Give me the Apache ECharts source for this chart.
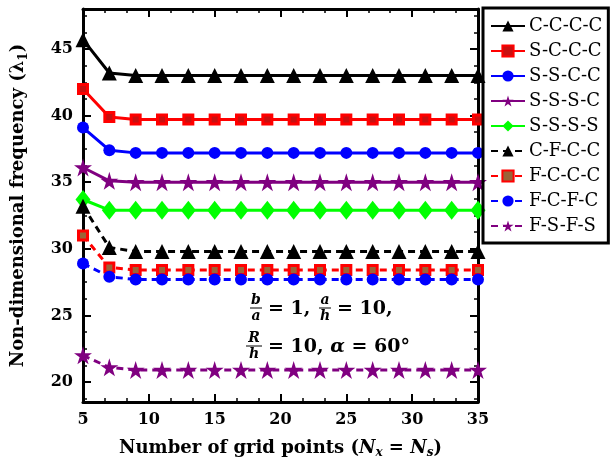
<!DOCTYPE html>
<html>
<head>
<meta charset="utf-8">
<script src="https://cdn.jsdelivr.net/npm/echarts@6/dist/echarts.min.js"></script>
<style>
  html, body { margin: 0; padding: 0; background: #fff; }
  #chart { width: 610px; height: 461px; }
</style>
</head>
<body>
<div id="chart"></div>
<script>
// grid points on x axis
const gridPoints = [5, 7, 9, 11, 13, 15, 17, 19, 21, 23, 25, 27, 29, 31, 33, 35];

// non-dimensional frequency per boundary condition
const cccc = [45.7, 43.2, 43.0, 43.0, 43.0, 43.0, 43.0, 43.0, 43.0, 43.0, 43.0, 43.0, 43.0, 43.0, 43.0, 43.0];
const sccc = [42.0, 39.9, 39.7, 39.7, 39.7, 39.7, 39.7, 39.7, 39.7, 39.7, 39.7, 39.7, 39.7, 39.7, 39.7, 39.7];
const sscc = [39.1, 37.4, 37.2, 37.2, 37.2, 37.2, 37.2, 37.2, 37.2, 37.2, 37.2, 37.2, 37.2, 37.2, 37.2, 37.2];
const sssc = [36.1, 35.1, 35.0, 35.0, 35.0, 35.0, 35.0, 35.0, 35.0, 35.0, 35.0, 35.0, 35.0, 35.0, 35.0, 35.0];
const ssss = [33.7, 32.9, 32.9, 32.9, 32.9, 32.9, 32.9, 32.9, 32.9, 32.9, 32.9, 32.9, 32.9, 32.9, 32.9, 32.9];
const cfcc = [33.2, 30.1, 29.8, 29.8, 29.8, 29.8, 29.8, 29.8, 29.8, 29.8, 29.8, 29.8, 29.8, 29.8, 29.8, 29.8];
const fccc = [31.0, 28.6, 28.4, 28.4, 28.4, 28.4, 28.4, 28.4, 28.4, 28.4, 28.4, 28.4, 28.4, 28.4, 28.4, 28.4];
const fcfc = [28.9, 27.9, 27.7, 27.7, 27.7, 27.7, 27.7, 27.7, 27.7, 27.7, 27.7, 27.7, 27.7, 27.7, 27.7, 27.7];
const fsfs = [22.0, 21.1, 20.9, 20.9, 20.9, 20.9, 20.9, 20.9, 20.9, 20.9, 20.9, 20.9, 20.9, 20.9, 20.9, 20.9];

// tick values
const yMajorTicks = [20, 25, 30, 35, 40, 45];
const yMinorTicks = [18.75, 21.25, 22.5, 23.75, 26.25, 27.5, 28.75, 31.25, 32.5, 33.75,
                     36.25, 37.5, 38.75, 41.25, 42.5, 43.75, 46.25, 47.5];

const FONT = "DejaVu Serif";
const STAR = "path://M50,0 L61,36 L98,36 L68,58 L80,95 L50,73 L20,95 L32,58 L2,36 L39,36 Z";

const pairs = (ys) => gridPoints.map((x, i) => [x, ys[i]]);

const mkSeries = (name, ys, color, symbol, size, dashed, item) => ({
  name: name,
  type: "line",
  data: pairs(ys),
  symbol: symbol,
  symbolSize: size,
  showSymbol: true,
  lineStyle: { color: color, width: 3, type: dashed ? [7, 5] : "solid" },
  itemStyle: Object.assign({ color: color }, item || {}),
  emphasis: { disabled: true },
  z: 3,
});

const series = [
  mkSeries("C-C-C-C", cccc, "#000000", "triangle", 15, false),
  mkSeries("S-C-C-C", sccc, "#ff0000", "rect", 9, false, { color: "#c81010", borderColor: "#ff0000", borderWidth: 3 }),
  mkSeries("S-S-C-C", sscc, "#0000ff", "circle", 12, false),
  mkSeries("S-S-S-C", sssc, "#800080", STAR, 18, false),
  mkSeries("S-S-S-S", ssss, "#00ff00", "diamond", [15, 19], false),
  mkSeries("C-F-C-C", cfcc, "#000000", "triangle", 15, true),
  mkSeries("F-C-C-C", fccc, "#ff0000", "rect", 9, true, { color: "#9a6438", borderColor: "#ff0000", borderWidth: 3 }),
  mkSeries("F-C-F-C", fcfc, "#0000ff", "circle", 12, true),
  mkSeries("F-S-F-S", fsfs, "#800080", STAR, 18, true),
];

const xCommon = {
  type: "value", min: 5, max: 35, interval: 5,
  axisLine: { show: true, onZero: false, lineStyle: { color: "#000", width: 3 } },
  axisTick: { show: true, inside: true, length: 8, lineStyle: { color: "#000", width: 2 } },
  minorTick: { show: true, splitNumber: 3, length: 4, lineStyle: { color: "#000", width: 1.5 } },
  splitLine: { show: false },
  minorSplitLine: { show: false },
};

const yMain = (pos, labels) => ({
  type: "value", min: 18.5, max: 48, position: pos,
  axisLine: { show: true, onZero: false, lineStyle: { color: "#000", width: 3 } },
  axisTick: { show: true, inside: true, length: 8, customValues: yMajorTicks, lineStyle: { color: "#000", width: 2 } },
  axisLabel: labels
    ? { show: true, customValues: yMajorTicks, color: "#000", fontFamily: FONT, fontWeight: "bold", fontSize: 16, margin: 10 }
    : { show: false },
  splitLine: { show: false },
});

const yMinor = (pos) => ({
  type: "value", min: 18.5, max: 48, position: pos,
  axisLine: { show: false, onZero: false },
  axisTick: { show: true, inside: true, length: 4, customValues: yMinorTicks, lineStyle: { color: "#000", width: 1.5 } },
  axisLabel: { show: false },
  splitLine: { show: false },
});

const chart = echarts.init(document.getElementById("chart"));

const mathFont = "italic bold 14px " + FONT;
const bigFont = "bold 19px " + FONT;

chart.setOption({
  backgroundColor: "#ffffff",
  animation: false,
  grid: { left: 83, right: 132, top: 9, bottom: 59, containLabel: false, outerBoundsMode: "none" },
  legend: {
    orient: "vertical",
    left: 483,
    top: 8,
    padding: [9, 6, 8, 7],
    itemGap: 7,
    itemWidth: 34,
    itemHeight: 14,
    borderColor: "#000",
    borderWidth: 3,
    borderRadius: 0,
    selectedMode: false,
    textStyle: { color: "#000", fontFamily: FONT, fontSize: 18, lineHeight: 17, padding: [0, 0, 0, -1] },
    data: series.map((s) => s.name),
  },
  xAxis: [
    Object.assign({}, xCommon, {
      position: "bottom",
      axisLabel: { show: true, color: "#000", fontFamily: FONT, fontWeight: "bold", fontSize: 16, margin: 10 },
      name: "{b|Number of grid points (}{i|N}{s|x}{b| = }{i|N}{s|s}{b|)}",
      nameLocation: "middle",
      nameGap: 35,
      nameTextStyle: {
        rich: {
          b: { fontFamily: FONT, fontWeight: "bold", fontSize: 18, color: "#000", lineHeight: 22 },
          i: { fontFamily: FONT, fontWeight: "bold", fontStyle: "italic", fontSize: 18, color: "#000", lineHeight: 22 },
          s: { fontFamily: FONT, fontWeight: "bold", fontStyle: "italic", fontSize: 12, color: "#000", lineHeight: 22, verticalAlign: "bottom", padding: [8, 0, 0, 0] },
        },
      },
    }),
    Object.assign({}, xCommon, { position: "top", axisLabel: { show: false } }),
  ],
  yAxis: [
    Object.assign(yMain("left", true), {
      name: "{b|Non-dimensional frequency (λ}{s|1}{b|)}",
      nameLocation: "middle",
      nameGap: 53,
      nameRotate: 90,
      nameTextStyle: {
        rich: {
          b: { fontFamily: FONT, fontWeight: "bold", fontSize: 18, color: "#000", lineHeight: 24 },
          s: { fontFamily: FONT, fontWeight: "bold", fontSize: 12, color: "#000", lineHeight: 24, verticalAlign: "bottom", padding: [9, 0, 0, 0] },
        },
      },
    }),
    yMinor("left"),
    yMain("right", false),
    yMinor("right"),
  ],
  series: series,
  graphic: [
    // b/a = 1, a/h = 10,
    { type: "text", x: 256, y: 300, style: { text: "b", font: mathFont, fill: "#000", align: "center", verticalAlign: "middle" } },
    { type: "line", shape: { x1: 250, y1: 308, x2: 262, y2: 308 }, style: { stroke: "#000", lineWidth: 1 } },
    { type: "text", x: 256, y: 316, style: { text: "a", font: mathFont, fill: "#000", align: "center", verticalAlign: "middle" } },
    { type: "text", x: 268, y: 309, style: { text: "= 1,", font: bigFont, fill: "#000", align: "left", verticalAlign: "middle" } },
    { type: "text", x: 325, y: 300, style: { text: "a", font: mathFont, fill: "#000", align: "center", verticalAlign: "middle" } },
    { type: "line", shape: { x1: 319, y1: 308, x2: 331, y2: 308 }, style: { stroke: "#000", lineWidth: 1 } },
    { type: "text", x: 325, y: 316, style: { text: "h", font: mathFont, fill: "#000", align: "center", verticalAlign: "middle" } },
    { type: "text", x: 337, y: 309, style: { text: "= 10,", font: bigFont, fill: "#000", align: "left", verticalAlign: "middle" } },
    // R/h = 10, alpha = 60
    { type: "text", x: 254, y: 338, style: { text: "R", font: mathFont, fill: "#000", align: "center", verticalAlign: "middle" } },
    { type: "line", shape: { x1: 246, y1: 346, x2: 262, y2: 346 }, style: { stroke: "#000", lineWidth: 1 } },
    { type: "text", x: 254, y: 354, style: { text: "h", font: mathFont, fill: "#000", align: "center", verticalAlign: "middle" } },
    { type: "text", x: 268, y: 347, style: { rich: {
        n: { font: bigFont, fill: "#000" },
        g: { font: "italic bold 19px " + FONT, fill: "#000" } },
      text: "{n|= 10, }{g|α}{n| = 60°}", align: "left", verticalAlign: "middle" } },
  ],
});
</script>
</body>
</html>
